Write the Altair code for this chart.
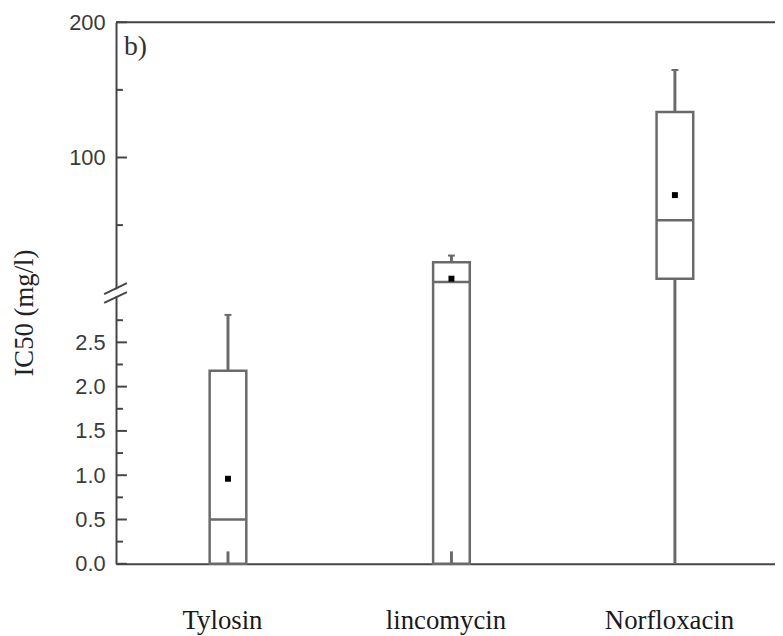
import altair as alt
import pandas as pd

# ---- data (mg/l) ----
drugs = ["Tylosin", "lincomycin", "Norfloxacin"]
stub_low = [0.0, 0.0, 0.0]
stub_high = [0.14, 0.14, 10.4]
q1 = [0.0, 0.0, 10.4]
median = [0.5, 7.9, 53.6]
mean = [0.96, 10.4, 72.2]
q3 = [2.18, 22.6, 133.7]
whisker_top = [2.81, 27.5, 164.7]

major_ticks = [0.0, 0.5, 1.0, 1.5, 2.0, 2.5, 100, 200]
minor_ticks = [0.25, 0.75, 1.25, 1.75, 2.25, 2.75, 50, 150]

# ---- broken axis: lower segment 0..BREAK, upper segment 0..200 compressed ----
BREAK = 3.06
K = 0.01527


def to_pos(v):
    return v if v <= BREAK else BREAK + v * K


TOP = to_pos(200)
W, H = 665, 546.5

AX = "#454545"
BOX = "#6a6a6a"


def pos_expr(f):
    return f"datum['{f}'] <= {BREAK} ? datum['{f}'] : {BREAK} + datum['{f}'] * {K}"


df = pd.DataFrame({
    "drug": drugs, "lo": stub_low, "lo_end": stub_high, "q1": q1,
    "med": median, "mean": mean, "q3": q3, "hi": whisker_top,
})
ticks_major = pd.DataFrame({"v": major_ticks})
ticks_minor = pd.DataFrame({"v": minor_ticks})
one = pd.DataFrame({"k": [0]})

y_scale = alt.Scale(domain=[0, TOP], nice=False, zero=False)
y_axis = alt.Axis(
    values=[to_pos(v) for v in major_ticks],
    labelExpr=f"datum.value > {BREAK} + 0.001 ? format((datum.value - {BREAK}) / {K}, '.0f') : format(datum.value, '.1f')",
    title="IC50 (mg/l)", ticks=False, tickSize=0, grid=False,
    domain=True, domainColor=AX, domainWidth=2,
    labelFont="Liberation Sans", labelFontSize=22, labelColor="#3a3a3a",
    labelPadding=11, labelFlush=False, labelOverlap=False,
    titleFont="Liberation Serif", titleFontSize=27, titleFontWeight="normal",
    titleColor="#222222", titleX=-92, titleY=293, titleAngle=270,
    titleAlign="center", titleBaseline="middle",
)
x_scale = alt.Scale(type="point", domain=drugs, padding=0.4745, align=0.528)
x_axis = alt.Axis(
    title=None, ticks=False, tickSize=0, grid=False, domain=True,
    domainColor=AX, domainWidth=2, labelFont="Liberation Serif",
    labelFontSize=27, labelColor="#1a1a1a", labelPadding=65,
    labelBaseline="alphabetic", labelAngle=0, labelOffset=-6, labelFlush=False,
)

base = alt.Chart(df).transform_calculate(
    lo_p=pos_expr("lo"), lo_end_p=pos_expr("lo_end"), q1_p=pos_expr("q1"),
    med_p=pos_expr("med"), mean_p=pos_expr("mean"), q3_p=pos_expr("q3"),
    hi_p=pos_expr("hi"),
)
X = alt.X("drug:N", scale=x_scale, axis=x_axis, sort=drugs)


def Y(f):
    return alt.Y(f"{f}:Q", scale=y_scale, axis=y_axis)


box = base.mark_bar(size=37, fill="white", stroke=BOX, strokeWidth=2.5).encode(
    x=X, y=Y("q1_p"), y2="q3_p:Q")
med = base.mark_tick(size=37, thickness=2.5, color=BOX, opacity=1).encode(x=X, y=Y("med_p"))
up = base.mark_rule(color=BOX, strokeWidth=3).encode(x=X, y=Y("q3_p"), y2="hi_p:Q")
low = base.mark_rule(color=BOX, strokeWidth=3).encode(x=X, y=Y("lo_p"), y2="lo_end_p:Q")
cap = base.mark_tick(size=7, thickness=2, color=BOX, opacity=1).encode(x=X, y=Y("hi_p"))
mn = base.mark_square(size=36, color="black", opacity=1).encode(x=X, y=Y("mean_p"))

tick_calc = {"p": f"datum.v <= {BREAK} ? datum.v : {BREAK} + datum.v * {K}"}
tmaj = alt.Chart(ticks_major).transform_calculate(**tick_calc).mark_rule(
    color=AX, strokeWidth=2).encode(x=alt.value(0), x2=alt.value(11), y=Y("p"))
tmin = alt.Chart(ticks_minor).transform_calculate(**tick_calc).mark_rule(
    color=AX, strokeWidth=2).encode(x=alt.value(0), x2=alt.value(7), y=Y("p"))

top_line = alt.Chart(one).mark_rule(color=AX, strokeWidth=2).encode(
    x=alt.value(0), x2=alt.value(W), y=alt.value(0))

YB = alt.Y(datum=BREAK, type="quantitative", scale=y_scale, axis=y_axis)
YB2 = alt.Y2(datum=BREAK)
gap = alt.Chart(one).mark_rule(color="white", strokeWidth=6, yOffset=-3.5, y2Offset=3.5).encode(
    x=alt.value(0), y=YB, y2=YB2)
slash1 = alt.Chart(one).mark_rule(color=AX, strokeWidth=2, yOffset=1.3, y2Offset=-9.7).encode(
    x=alt.value(-12), x2=alt.value(11), y=YB, y2=YB2)
slash2 = alt.Chart(one).mark_rule(color=AX, strokeWidth=2, yOffset=10.3, y2Offset=-0.7).encode(
    x=alt.value(-12), x2=alt.value(11), y=YB, y2=YB2)

panel = alt.Chart(one).mark_text(
    text="b)", font="Liberation Serif", fontSize=28, color="#333333",
    align="left", baseline="alphabetic").encode(x=alt.value(8), y=alt.value(33))

chart = alt.layer(
    box, med, up, low, cap, mn, tmaj, tmin, top_line, gap, slash1, slash2, panel
).properties(
    width=W, height=H, autosize=alt.AutoSizeParams(type="none"),
    padding={"left": 109, "top": 11.5, "right": 0, "bottom": 70},
    background="white",
).configure_view(stroke=None)

chart.save("out.html", embed_options={"renderer": "svg", "actions": False})
